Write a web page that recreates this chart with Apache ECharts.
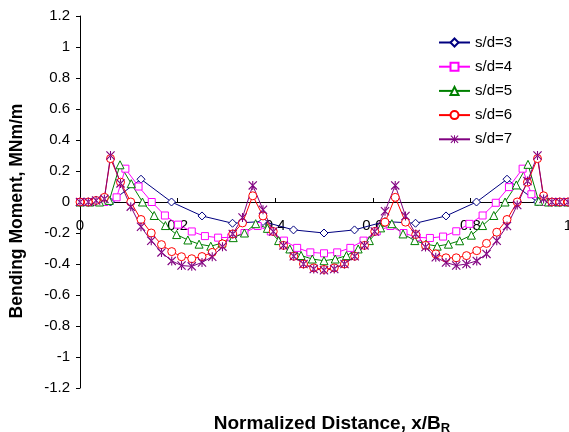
<!DOCTYPE html>
<html>
<head>
<meta charset="utf-8">
<script src="https://cdn.jsdelivr.net/npm/echarts@6/dist/echarts.min.js"></script>
<style>
  html, body { margin: 0; padding: 0; background: #fff; }
  #chart { width: 569px; height: 432px; }
</style>
</head>
<body>
<div id="chart"></div>
<script>
// x/B_R positions and bending moments (MNm/m)
const seriesNames = ['s/d=3', 's/d=4', 's/d=5', 's/d=6', 's/d=7']

const xS3 = [0, 0.0625, 0.125, 0.1875, 0.25, 0.3125, 0.375, 0.4375, 0.5, 0.5625, 0.625, 0.6875, 0.75, 0.8125, 0.875, 0.9375, 1]
const yS3 = [0, 0, 0.147, 0, -0.09, -0.137, -0.126, -0.18, -0.2, -0.18, -0.126, -0.137, -0.09, 0, 0.147, 0, 0]

const xS4 = [0, 0.025, 0.05, 0.075, 0.093, 0.12, 0.147, 0.174, 0.201, 0.229, 0.256, 0.283, 0.31, 0.337, 0.364, 0.391, 0.418, 0.445, 0.472, 0.5,
  0.527, 0.554, 0.581, 0.608, 0.636, 0.663, 0.69, 0.717, 0.744, 0.771, 0.798, 0.825, 0.852, 0.879, 0.907, 0.925, 0.95, 0.975, 1]
const yS4 = [0, 0, 0, 0.03, 0.215, 0.1, 0, -0.087, -0.146, -0.19, -0.22, -0.23, -0.228, -0.2, -0.155, -0.19, -0.249, -0.296, -0.325, -0.331,
  -0.325, -0.296, -0.249, -0.19, -0.155, -0.2, -0.228, -0.232, -0.223, -0.189, -0.141, -0.087, -0.005, 0.096, 0.215, 0.05, 0, 0, 0]

const xS5 = [0, 0.02, 0.04, 0.06, 0.082, 0.105, 0.128, 0.152, 0.175, 0.198, 0.221, 0.244, 0.268, 0.291, 0.314, 0.337, 0.36, 0.384, 0.407, 0.43, 0.453, 0.476, 0.5,
  0.523, 0.546, 0.57, 0.593, 0.616, 0.639, 0.662, 0.686, 0.709, 0.732, 0.755, 0.778, 0.802, 0.825, 0.848, 0.871, 0.894, 0.918, 0.94, 0.96, 0.98, 1]
const yS5 = [0, 0, 0, 0.01, 0.24, 0.118, 0, -0.087, -0.152, -0.21, -0.245, -0.272, -0.285, -0.265, -0.23, -0.2, -0.14, -0.17, -0.249, -0.303, -0.345, -0.368, -0.379,
  -0.368, -0.346, -0.303, -0.249, -0.167, -0.14, -0.206, -0.249, -0.272, -0.285, -0.272, -0.25, -0.214, -0.152, -0.087, 0, 0.11, 0.243, 0.005, 0, 0, 0]

// s/d=6 and s/d=7 share the same stations
const xS67 = [0, 0.017, 0.033, 0.05, 0.0625, 0.083, 0.104, 0.125, 0.146, 0.167, 0.188, 0.208, 0.229, 0.25, 0.271, 0.292, 0.313, 0.333, 0.354, 0.375,
  0.396, 0.417, 0.438, 0.458, 0.479, 0.5, 0.521, 0.542, 0.563, 0.583, 0.604, 0.625, 0.646, 0.667, 0.688, 0.708, 0.729, 0.75, 0.771, 0.792,
  0.813, 0.833, 0.854, 0.875, 0.896, 0.917, 0.9375, 0.95, 0.967, 0.983, 1]
const yS6 = [0, 0, 0.01, 0.03, 0.28, 0.128, 0, -0.113, -0.2, -0.275, -0.32, -0.353, -0.366, -0.352, -0.325, -0.27, -0.206, -0.135, 0.04, -0.09,
  -0.19, -0.28, -0.35, -0.4, -0.425, -0.435, -0.425, -0.4, -0.35, -0.28, -0.19, -0.13, 0.03, -0.13, -0.21, -0.28, -0.335, -0.36, -0.36, -0.346,
  -0.314, -0.267, -0.195, -0.113, 0, 0.128, 0.28, 0.04, 0, 0, 0]
const yS7 = [0, 0, 0.01, 0.02, 0.3, 0.12, -0.03, -0.16, -0.25, -0.325, -0.38, -0.41, -0.415, -0.39, -0.353, -0.288, -0.206, -0.1, 0.107, -0.05,
  -0.19, -0.28, -0.35, -0.4, -0.432, -0.44, -0.432, -0.4, -0.35, -0.28, -0.19, -0.06, 0.107, -0.09, -0.206, -0.29, -0.357, -0.39, -0.41, -0.4,
  -0.38, -0.335, -0.25, -0.155, -0.02, 0.135, 0.3, 0.02, 0, 0, 0]

const xTicks = ['0', '0.2', '0.4', '0.6', '0.8', '1']

const FONT = "'Liberation Sans', Arial, sans-serif"
const STAR = 'path://M4.4,0L5.6,0L5.6,10L4.4,10Z M0,0.9L0.9,0L10,9.1L9.1,10Z M10,0.9L9.1,0L0,9.1L0.9,10Z'

const zip = (xs, ys) => xs.map((x, i) => [x, ys[i]])

function lineSeries(name, xs, ys, color, symbol, size, hollow) {
  return {
    name,
    type: 'line',
    data: zip(xs, ys),
    symbol,
    symbolSize: size,
    showAllSymbol: true,
    lineStyle: { color, width: 1 },
    itemStyle: hollow
      ? { color: '#fff', borderColor: color, borderWidth: 1 }
      : { color, borderColor: color, borderWidth: 0 },
    emphasis: { disabled: true },
  }
}

const chart = echarts.init(document.getElementById('chart'))
chart.setOption({
  animation: false,
  backgroundColor: '#fff',
  textStyle: { fontFamily: FONT },
  grid: { left: 80, right: 1, top: 16, bottom: 44, outerBoundsMode: 'none', containLabel: false },
  legend: {
    orient: 'vertical',
    left: 438,
    top: 35,
    padding: 0,
    itemWidth: 31,
    itemHeight: 10,
    itemGap: 9.2,
    data: seriesNames,
    textStyle: { fontFamily: FONT, fontSize: 15, color: '#000' },
  },
  xAxis: {
    type: 'value',
    min: 0,
    max: 1,
    interval: 0.2,
    position: 'bottom',
    offset: -186,
    name: 'Normalized Distance, x/B{sub|R}',
    nameLocation: 'middle',
    nameGap: 210,
    nameTextStyle: {
      fontFamily: FONT,
      fontSize: 19,
      fontWeight: 'bold',
      color: '#000',
      padding: [0, 0, 0, 16],
      rich: { sub: { fontFamily: FONT, fontSize: 13, fontWeight: 'bold', color: '#000', padding: [10, 0, 0, 0] } },
    },
    axisLine: { onZero: false, lineStyle: { color: '#000', width: 1 } },
    axisTick: { inside: true, length: 4, lineStyle: { color: '#000' } },
    axisLabel: {
      margin: 16,
      fontSize: 15,
      color: '#000',
      fontFamily: FONT,
      formatter: (v) => xTicks[Math.round(v / 0.2)],
    },
    splitLine: { show: false },
  },
  yAxis: {
    type: 'value',
    min: -1.2,
    max: 1.2,
    interval: 0.2,
    name: 'Bending Moment, MNm/m',
    nameLocation: 'middle',
    nameGap: 54,
    nameTextStyle: { fontFamily: FONT, fontSize: 17.5, fontWeight: 'bold', color: '#000', padding: [0, 18, 0, 0] },
    axisLine: { lineStyle: { color: '#000', width: 1 } },
    axisTick: { length: 4, lineStyle: { color: '#000' } },
    axisLabel: { margin: 10, fontSize: 15, color: '#000', fontFamily: FONT },
    splitLine: { show: false },
  },
  series: [
    lineSeries('s/d=3', xS3, yS3, '#000080', 'diamond', 8, true),
    lineSeries('s/d=4', xS4, yS4, '#ff00ff', 'rect', 7, true),
    lineSeries('s/d=5', xS5, yS5, '#008000', 'triangle', 8, true),
    lineSeries('s/d=6', xS67, yS6, '#ff0000', 'circle', 8, true),
    lineSeries('s/d=7', xS67, yS7, '#800080', STAR, 9, false),
  ],
})
</script>
</body>
</html>
